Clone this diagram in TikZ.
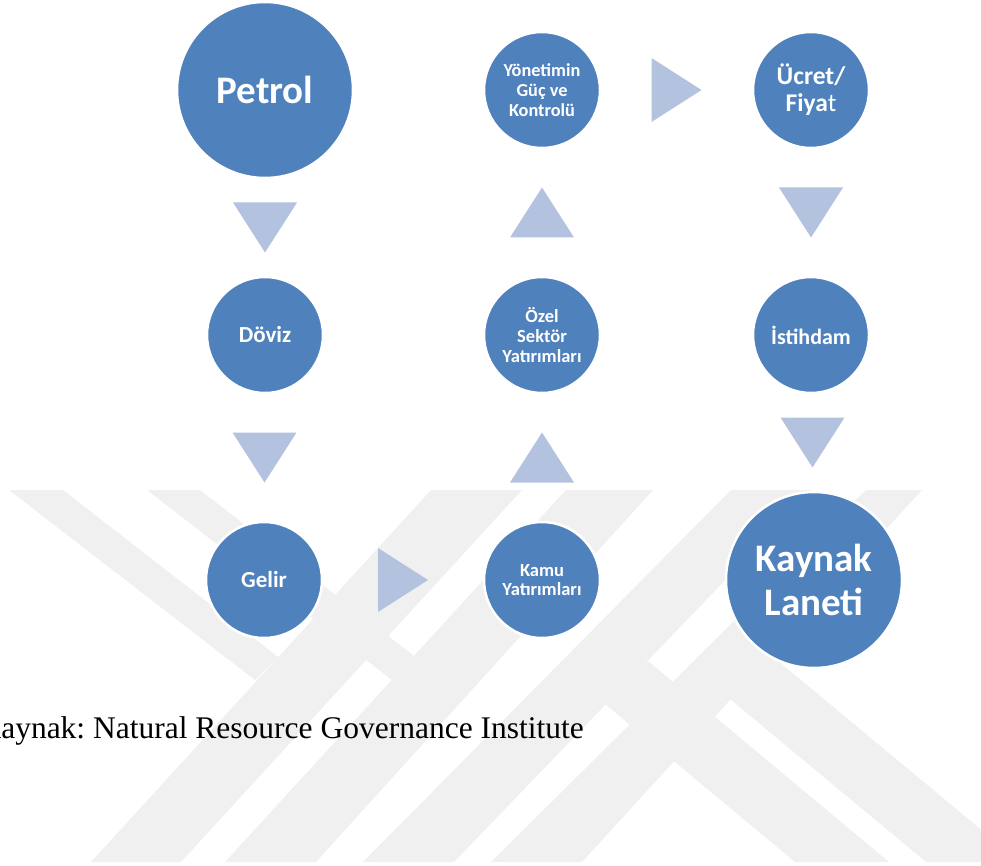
\documentclass[tikz,border=0pt]{standalone}
\usepackage{fontspec}
\setmainfont{Liberation Serif}
\newfontfamily\calibri{Carlito}
\usetikzlibrary{calc}
\definecolor{bubbleblue}{RGB}{79,129,189}
\definecolor{arrowblue}{RGB}{179,194,222}
\definecolor{markgray}{RGB}{240,240,240}
\newcommand{\fs}[2]{\fontsize{#1}{#2}\selectfont}
\frenchspacing
\tikzset{
  bubble/.style={circle, fill=bubbleblue, draw=white, line width=2.5pt, text=white, align=center, inner sep=0pt},
  bigb/.style={bubble, minimum size=176pt},
  smallb/.style={bubble, minimum size=116pt},
  tri/.style={fill=arrowblue},
  band/.style={fill=markgray}
}
\begin{document}
\begin{tikzpicture}[x=1pt, y=-1pt]
\useasboundingbox (0,0) rectangle (981,866);
% watermark
\fill[band] (91,862) -- (181,862) -- (522,490) -- (431,490) -- cycle;
\fill[band] (225,862) -- (316,862) -- (653,490) -- (566,490) -- cycle;
\fill[band] (9,490) -- (63,490) -- (278,657) -- (255,680) -- cycle;
\fill[band] (147,490) -- (200,490) -- (414,656) -- (392,680) -- cycle;
\fill[band] (363,862) -- (454,862) -- (812,490) -- (731,490) -- cycle;
\fill[band] (491,862) -- (582,862) -- (922,490) -- (866,490) -- cycle;
\fill[band] (605,704) -- (648,661) -- (889,862) -- (795,862) -- cycle;
\fill[band] (730,699) -- (771,655) -- (1020,862) -- (926,862) -- cycle;
% bubbles
\node[bigb, font={\calibri\bfseries\fs{39}{44}}] (petrol) at (265,90) {Petrol};
\node[smallb, font={\calibri\bfseries\fs{23}{26}}] (doviz) at (265,335) {Döviz};
\node[smallb, font={\calibri\bfseries\fs{23}{26}}] (gelir) at (264,580) {Gelir};
\node[smallb, font={\calibri\bfseries\fs{18.5}{19}}] (kamu) at (542,580) {Kamu\\Yatırımları};
\node[smallb, font={\calibri\bfseries\fs{18.5}{20}}] (ozel) at (542,335) {Özel\\Sektör\\Yatırımları};
\node[smallb, font={\calibri\bfseries\fs{18.3}{20}}] (yonetim) at (542,90) {Yönetimin\\Güç ve\\Kontrolü};
\node[smallb, font={\calibri\bfseries\fs{25.5}{27}}] (ucret) at (811,90) {Ücret/\\Fiya\mdseries t};
\node[smallb, font={\calibri\bfseries\fs{22}{26}}] (istihdam) at (811,335) {İstihdam};
\node[bigb, font={\calibri\bfseries\fs{39}{44}}] (lanet) at (814,580) {Kaynak\\Laneti};
% arrows
\coordinate (t1) at ($(petrol.south)!0.5!(doviz.north)$);
\coordinate (t2) at ($(doviz.south)!0.5!(gelir.north)$);
\coordinate (t3) at ($(gelir.east)!0.5!(kamu.west)$);
\coordinate (t4) at ($(kamu.north)!0.5!(ozel.south)$);
\coordinate (t5) at ($(ozel.north)!0.5!(yonetim.south)$);
\coordinate (t6) at ($(yonetim.east)!0.5!(ucret.west)$);
\coordinate (t7) at ($(ucret.south)!0.5!(istihdam.north)$);
\coordinate (t8) at ($(istihdam.south)!0.5!(lanet.north)$);
\fill[tri] ($(t1)+(-32,-25)$) -- ($(t1)+(32,-25)$) -- ($(t1)+(0,25)$) -- cycle;
\fill[tri] ($(t2)+(-32,-25)$) -- ($(t2)+(32,-25)$) -- ($(t2)+(0,25)$) -- cycle;
\fill[tri] ($(t3)+(-25,-32)$) -- ($(t3)+(-25,32)$) -- ($(t3)+(25,0)$) -- cycle;
\fill[tri] ($(t4)+(-32,25)$) -- ($(t4)+(32,25)$) -- ($(t4)+(0,-25)$) -- cycle;
\fill[tri] ($(t5)+(-32,25)$) -- ($(t5)+(32,25)$) -- ($(t5)+(0,-25)$) -- cycle;
\fill[tri] ($(t6)+(-25,-32)$) -- ($(t6)+(-25,32)$) -- ($(t6)+(25,0)$) -- cycle;
\fill[tri] ($(t7)+(-32,-25)$) -- ($(t7)+(32,-25)$) -- ($(t7)+(0,25)$) -- cycle;
\fill[tri] ($(t8)+(-32,-25)$) -- ($(t8)+(32,-25)$) -- ($(t8)+(0,25)$) -- cycle;
% source
\node[anchor=base west, font=\fs{31.5}{36}] (source) at (-25,738) {Kaynak: Natural Resource Governance Institute};
\end{tikzpicture}
\end{document}
